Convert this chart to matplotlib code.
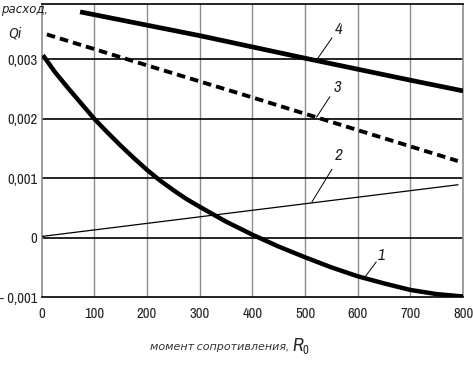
import matplotlib
matplotlib.use("Agg")
import matplotlib.pyplot as plt
from matplotlib import font_manager

# ---- data -------------------------------------------------------------------

R1 = [5, 25, 50, 75, 100, 125, 150, 175, 200, 225, 250, 275, 300, 350, 400,
      450, 500, 550, 600, 650, 700, 750, 800]
Q1 = [0.00304, 0.00279, 0.00252, 0.00226, 0.00200, 0.00177, 0.00155, 0.00134,
      0.00114, 0.00096, 0.00080, 0.00065, 0.00052, 0.00027, 0.00005, -0.00015,
      -0.00033, -0.00050, -0.00065, -0.00077, -0.00088, -0.00095, -0.00099]

R2 = [0, 790]
Q2 = [0.00002, 0.00089]

R3 = [10, 200, 400, 600, 790]
Q3 = [0.00342, 0.00290, 0.00236, 0.00181, 0.00129]

R4 = [73, 300, 500, 700, 800]
Q4 = [0.00380, 0.00340, 0.00302, 0.00265, 0.00247]

X_TICKS = [0, 100, 200, 300, 400, 500, 600, 700, 800]
Y_TICKS = [-0.001, 0.0, 0.001, 0.002, 0.003]
Y_TICK_LABELS = ["- 0,001", "0", "0,001", "0,002", "0,003"]

# curve label, text position (data), leader start, leader end
LABELS = [
    ("1", (646, -0.00030), (635, -0.00041), (614, -0.00066)),
    ("2", (563, 0.00139), (551, 0.00115), (513, 0.00060)),
    ("3", (561, 0.00253), (547, 0.00237), (522, 0.00203)),
    ("4", (563, 0.00351), (551, 0.00336), (522, 0.00299)),
]

# ---- fonts: prefer a narrow sans, like the scanned original -----------------

narrow = None
for f in font_manager.fontManager.ttflist:
    if ("Narrow" in f.name or "Condensed" in f.name) and "Mono" not in f.name:
        narrow = f.name
        break
    if str(f.stretch) in ("condensed", "semi-condensed", "75", "87") and "Sans" in f.name:
        narrow = f.name
if narrow:
    FAMILY, TICK_FS, LAB_FS = narrow, 10.5, 8.5
else:
    FAMILY, TICK_FS, LAB_FS = "Liberation Sans", 9, 7.5
plt.rcParams["font.family"] = [FAMILY, "DejaVu Sans"]
plt.rcParams["mathtext.fontset"] = "custom"
plt.rcParams["mathtext.it"] = FAMILY + ":italic"
plt.rcParams["mathtext.rm"] = FAMILY

fig = plt.figure(figsize=(4.73, 3.77), dpi=100)
ax = fig.add_axes([0.088, 0.212, 0.891, 0.777])

# grid: vertical grey, horizontal black
for x in X_TICKS[1:-1]:
    ax.axvline(x, color="#8c8c8c", lw=1.0, zorder=0)
for y in Y_TICKS[1:]:
    ax.axhline(y, color="black", lw=1.2, zorder=0)

ax.plot(R1, Q1, color="black", lw=3.2, solid_joinstyle="round", zorder=3)
ax.plot(R2, Q2, color="black", lw=0.9, zorder=3)
ax.plot(R3, Q3, color="black", lw=2.8, dashes=(2.2, 1.3), zorder=3)
ax.plot(R4, Q4, color="black", lw=3.4, solid_capstyle="butt", zorder=3)

for txt, pos, p0, p1 in LABELS:
    ax.text(pos[0], pos[1], txt, fontsize=12, fontstyle="italic",
            fontweight="bold", color="#222222", ha="center", va="center")
    ax.plot([p0[0], p1[0]], [p0[1], p1[1]], color="black", lw=0.7, zorder=4)

ax.set_xlim(0, 800)
ax.set_ylim(-0.001, 0.00393)
ax.set_xticks(X_TICKS)
ax.set_xticklabels([str(v) for v in X_TICKS])
ax.set_yticks(Y_TICKS)
ax.set_yticklabels(Y_TICK_LABELS)
ax.tick_params(length=0, labelsize=TICK_FS, pad=3, labelcolor="#222222")
ax.tick_params(axis="x", pad=7)

for side in ("left", "right"):
    ax.spines[side].set_color("#8c8c8c")
    ax.spines[side].set_linewidth(1.2)
for side in ("top", "bottom"):
    ax.spines[side].set_color("black")
    ax.spines[side].set_linewidth(1.2)

fig.text(0.003, 0.972, "расход,", fontsize=LAB_FS, fontstyle="italic",
         ha="left", va="center", color="#222222")
fig.text(0.018, 0.912, "Qi", fontsize=11, fontstyle="italic",
         ha="left", va="center", color="#222222")

fig.text(0.615, 0.08, "момент сопротивления, ", fontsize=LAB_FS - 0.5,
         fontstyle="italic", ha="right", va="center", color="#333333")
fig.text(0.617, 0.082, "$R_0$", fontsize=13, ha="left", va="center",
         color="#222222")

fig.savefig("out.png", dpi=100)
